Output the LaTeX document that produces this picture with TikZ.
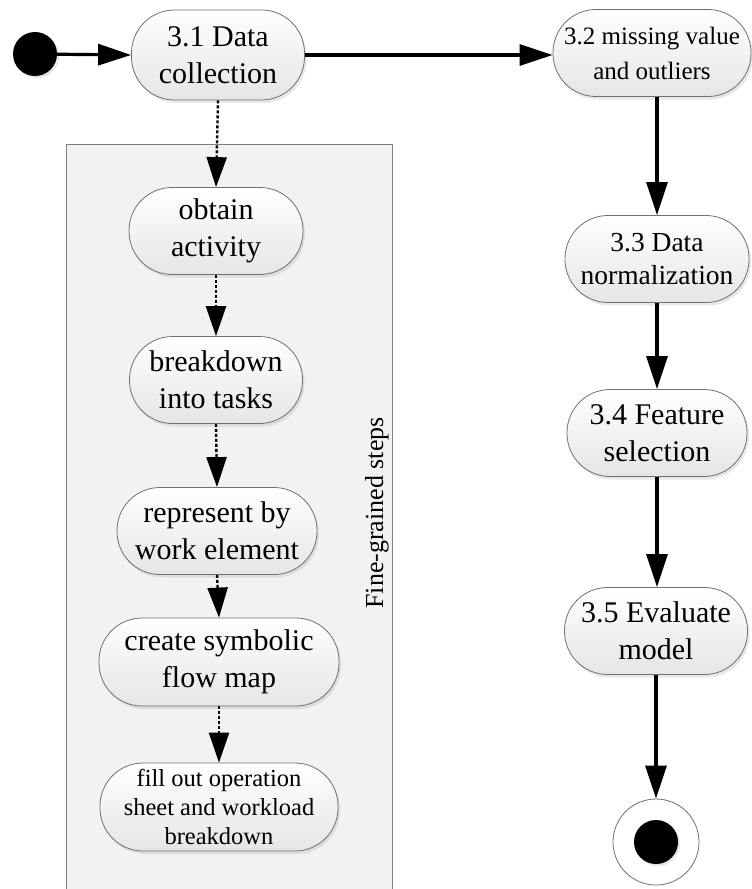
\documentclass[tikz,border=0pt]{standalone}
\usepackage{fontspec}
\setmainfont{Liberation Serif}
\newfontfamily\timesf{Liberation Serif}
\usetikzlibrary{arrows.meta,shadows}
\definecolor{boxfill}{HTML}{F2F2F2}
\definecolor{boxline}{HTML}{7F7F7F}
\definecolor{nodeline}{HTML}{707070}
\begin{document}
\begin{tikzpicture}[x=1pt,y=-1pt,
  act/.style={rectangle, rounded corners=43pt, draw=nodeline, line width=0.8pt,
    top color=white, bottom color=black!10, align=center, inner sep=0pt,
    minimum height=87pt, font=\timesf\fontsize{30}{37}\selectfont,
    drop shadow={opacity=0.18, shadow xshift=2pt, shadow yshift=-3pt}},
  midtext/.style={font=\timesf\fontsize{27.5}{33}\selectfont},
  smalltext/.style={font=\timesf\fontsize{25}{35}\selectfont},
  tinytext/.style={font=\timesf\fontsize{24.5}{29}\selectfont},
  flow/.style={line width=3.2pt, -{Triangle[length=33pt,width=21pt]}},
  subflow/.style={line width=2.4pt, dash pattern=on 3pt off 2pt, -{Triangle[length=30pt,width=20pt,sep=0pt]}},
  dot/.style={circle, fill=black, inner sep=0pt, minimum size=44pt,
    drop shadow={opacity=0.2, shadow xshift=2pt, shadow yshift=-2pt}},
  endring/.style={circle, draw=nodeline, line width=0.8pt, fill=white, inner sep=0pt, minimum size=86pt},
  grpbox/.style={draw=boxline, fill=boxfill, line width=1pt}
]
\useasboundingbox (0,0) rectangle (752,889);

% group box
\path[grpbox] (66,144) rectangle (392,895);
\node[rotate=90, font=\timesf\fontsize{26}{30}\selectfont] (lbl) at (377,513) {Fine-grained steps};

% start
\node[dot] (start) at (35,54) {};

% main column
\node[act, minimum width=173pt, minimum height=90pt] (a) at (218,55) {3.1 Data\\collection};
\node[act, smalltext, minimum width=198pt] (b) at (652,53) {3.2 missing value\\and outliers};
\node[act, midtext, minimum width=184pt] (c) at (657,259) {3.3 Data\\normalization};
\node[act, minimum width=180pt] (d) at (657,433) {3.4 Feature\\selection};
\node[act, minimum width=183pt] (e) at (656,631) {3.5 Evaluate\\model};
\node[endring] (fin) at (656,842) {};
\node[dot] (findot) at (656,842) {};

% sub steps
\node[act, minimum width=174pt] (s1) at (216,231) {obtain\\activity};
\node[act, minimum width=173pt] (s2) at (216,380) {breakdown\\into tasks};
\node[act, minimum width=200pt] (s3) at (217,531) {represent by\\work element};
\node[act, minimum width=240pt, minimum height=88pt] (s4) at (219,662) {create symbolic\\flow map};
\node[act, tinytext, minimum width=238pt, minimum height=88pt] (s5) at (219,807) {fill out operation\\sheet and workload\\breakdown};

% connectors
\draw[flow] (start) -- (a.west);
\draw[flow] (a.east) -- (a.east -| b.west);
\draw[flow] (c.north |- b.south) -- (c.north);
\draw[flow] (c.south) -- (d.north);
\draw[flow] (d.south) -- (d.south |- e.north);
\draw[flow] (e.south) -- (fin.north);

\draw[subflow] (a.south) -- (s1.north);
\draw[subflow] (s1.south) -- (s2.north);
\draw[subflow] (s2.south) -- (s3.north);
\draw[subflow] (s3.south) -- (s4.north);
\draw[subflow] (s4.south) -- (s5.north);
\end{tikzpicture}
\end{document}
